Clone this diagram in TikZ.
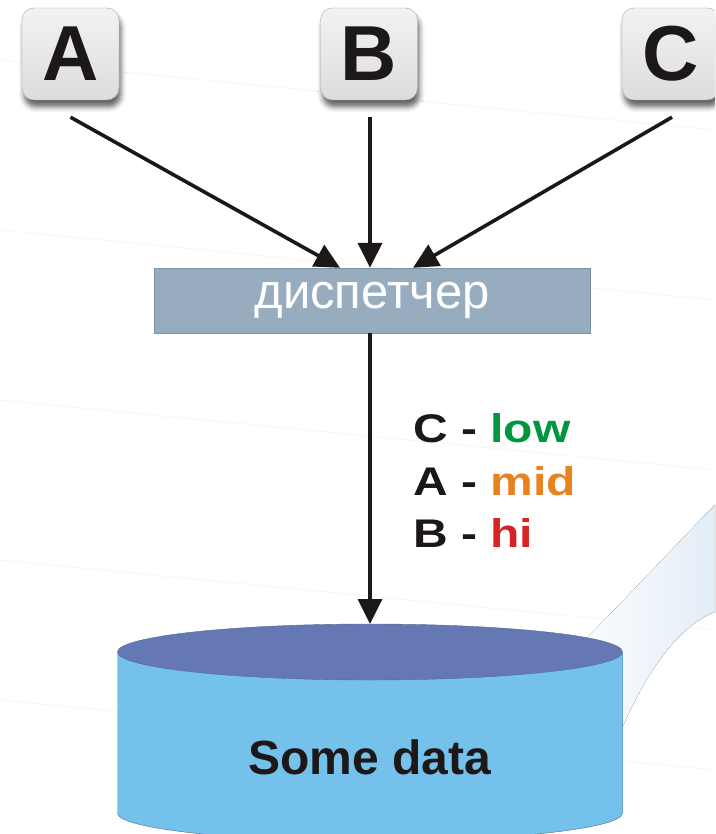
\documentclass[tikz,border=0pt]{standalone}
\usepackage{fontspec}
\setmainfont{Liberation Sans}
\usetikzlibrary{arrows.meta,shadows.blur}
\definecolor{dispfill}{RGB}{151,173,191}
\definecolor{displine}{RGB}{125,145,162}
\definecolor{cyltop}{RGB}{101,120,179}
\definecolor{cylbody}{RGB}{116,194,236}
\definecolor{cylline}{RGB}{80,110,140}
\definecolor{lowgreen}{RGB}{0,150,64}
\definecolor{midorange}{RGB}{232,130,30}
\definecolor{hired}{RGB}{214,35,35}
\definecolor{swoosh}{RGB}{226,237,246}
\definecolor{ink}{RGB}{28,24,24}

\begin{document}
\begin{tikzpicture}[x=1pt,y=-1pt,
	key/.style={draw=gray!70,rounded corners=12pt,top color=gray!10,bottom color=gray!27,minimum width=97pt,minimum height=92pt,inner sep=0pt,text=ink,font=\fontsize{78}{80}\selectfont\bfseries,blur shadow={shadow xshift=2pt,shadow yshift=-7pt,shadow blur radius=5pt,shadow opacity=60}},
	feed/.style={ink,line width=3.6pt,-{Triangle[length=25pt,width=24pt]}},
	legend/.style={anchor=base west,inner sep=0pt,text=ink,font=\fontsize{40}{42}\selectfont\bfseries}]
			\path[use as bounding box,clip] (0,0) rectangle (715,834);
			\foreach \y in {60,230,400,560,700}
				\draw[gray!6,line width=1pt](0,\y)--(715,\y+70);
			\fill[left color=white,right color=swoosh](560,665) .. controls (630,595) and (680,540) .. (715,505)--(715,612) .. controls (680,625) and (645,670) .. (615,745)--cycle;
			\node[key] (A) at (70.5,54) {A};
			\node[key] (B) at (369,54) {B};
			\node[key] (C) at (670.5,54) {C};
			\node[draw=displine,fill=dispfill,text=white,minimum width=436pt,minimum height=65pt,inner sep=0pt,font=\fontsize{49}{50}\selectfont] (disp) at (372,300.5) {диспетчер};
			\fill[cylbody](117.5,652) rectangle (622.5,813);
			\fill[cylbody](370,813) ellipse [x radius=252.5pt,y radius=28pt];
			\draw[cylline,thin](117.5,652)--(117.5,813) arc[start angle=180,end angle=360,x radius=252.5pt,y radius=28pt]--(622.5,652);
			\filldraw[fill=cyltop,draw=cylline,thin](370,652) ellipse [x radius=252.5pt,y radius=28pt];
			\coordinate (dbtop) at (370,624);
			\node[text=ink,font=\fontsize{48}{50}\selectfont\bfseries] (db) at (370,757) {Some data};
			\draw[feed]([yshift=-17pt]A.south)--([xshift=-32pt]disp.north);
			\draw[feed]([xshift=1pt,yshift=-17pt]B.south)--([xshift=-2pt]disp.north);
			\draw[feed]([xshift=1.5pt,yshift=-17pt]C.south)--([xshift=41pt]disp.north);
			\draw[feed]([xshift=-2pt]disp.south)--(dbtop);
			\node[legend] (legC) at (413,442) {\scalebox{1.2}[1]{C - \textcolor{lowgreen}{low}}};
			\node[legend] (legA) at (413,495) {\scalebox{1.2}[1]{A - \textcolor{midorange}{mid}}};
			\node[legend] (legB) at (413,547) {\scalebox{1.2}[1]{B - \textcolor{hired}{hi}}};
			\end{tikzpicture}
\end{document}
